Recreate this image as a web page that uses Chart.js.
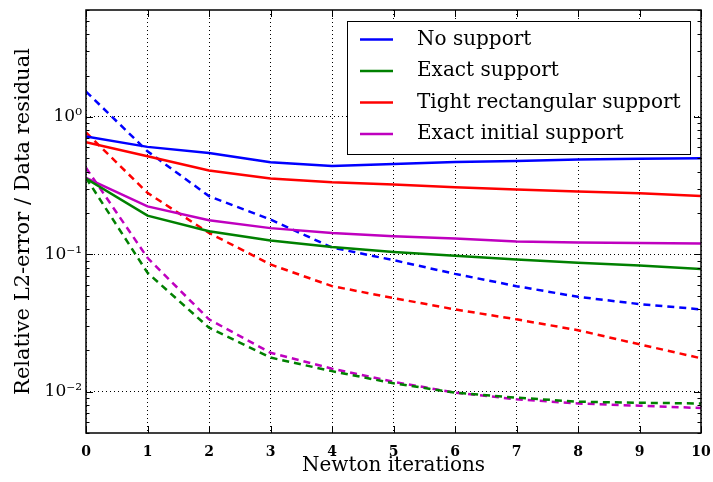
<!DOCTYPE html>
<html>
<head>
<meta charset="utf-8">
<script src="https://cdn.jsdelivr.net/npm/chart.js@4/dist/chart.umd.min.js"></script>
<style>
  html, body { margin: 0; background: #fff; }
  #wrap { width: 713px; height: 482px; }
</style>
</head>
<body>
<div id="wrap"><canvas id="chart"></canvas></div>
<script>
const iterations = [0, 1, 2, 3, 4, 5, 6, 7, 8, 9, 10];
const names = ['No support', 'Exact support', 'Tight rectangular support', 'Exact initial support'];
const colors = ['#0000ff', '#008000', '#ff0000', '#bf00bf'];

// relative L2-error (solid lines)
const errNone  = [0.72, 0.605, 0.547, 0.468, 0.44, 0.455, 0.47, 0.478, 0.49, 0.495, 0.50];
const errExact = [0.356, 0.191, 0.147, 0.126, 0.113, 0.104, 0.0975, 0.0917, 0.0867, 0.083, 0.078];
const errTight = [0.653, 0.517, 0.407, 0.356, 0.334, 0.322, 0.308, 0.296, 0.286, 0.278, 0.266];
const errInit  = [0.36, 0.223, 0.177, 0.155, 0.143, 0.135, 0.13, 0.124, 0.122, 0.121, 0.12];

// data residual (dashed lines)
const resNone  = [1.53, 0.562, 0.265, 0.179, 0.112, 0.0906, 0.072, 0.0586, 0.049, 0.0434, 0.0397];
const resExact = [0.36, 0.0733, 0.0292, 0.0177, 0.0141, 0.0115, 0.00984, 0.00904, 0.00845, 0.0083, 0.0082];
const resTight = [0.77, 0.28, 0.143, 0.0843, 0.0586, 0.048, 0.0397, 0.0336, 0.028, 0.0221, 0.0175];
const resInit  = [0.426, 0.0943, 0.0336, 0.0192, 0.0147, 0.0118, 0.00984, 0.0088, 0.0082, 0.0079, 0.0076];

const yMajor = [0.01, 0.1, 1];
const yMajorLabels = ['10⁻²', '10⁻¹', '10⁰'];
const Y_MIN = 0.005, Y_MAX = 6;

// log ticks: every 1..9 x decade inside the range
const yTickValues = [];
for (let d = -3; d <= 0; d++) for (let m = 1; m <= 9; m++) {
  const v = +(m * Math.pow(10, d)).toPrecision(3);
  if (v >= Y_MIN && v <= Y_MAX) yTickValues.push(v);
}
const isMajor = v => yMajor.some(m => Math.abs(v / m - 1) < 1e-6);

const pts = arr => iterations.map((x, i) => ({ x, y: arr[i] }));
const SERIF = '"DejaVu Serif", "Liberation Serif", serif';

const solid = [errNone, errExact, errTight, errInit].map((a, i) => ({
  label: names[i], data: pts(a), borderColor: colors[i], borderWidth: 2.5,
  pointRadius: 0, tension: 0, fill: false
}));
const dashed = [resNone, resExact, resTight, resInit].map((a, i) => ({
  label: '', data: pts(a), borderColor: colors[i], borderWidth: 2.5, borderDash: [7, 5],
  pointRadius: 0, tension: 0, fill: false
}));

// frame + inward tick marks on all four sides
const frameTicks = {
  id: 'frameTicks',
  afterDatasetsDraw(chart) {
    const { ctx, chartArea: a, scales: { x, y } } = chart;
    ctx.save();
    ctx.strokeStyle = '#000';
    ctx.lineWidth = 1;
    ctx.beginPath();
    for (const t of y.ticks) {
      const py = Math.round(y.getPixelForValue(t.value)) + 0.5;
      const len = isMajor(t.value) ? 7 : 3.5;
      ctx.moveTo(a.left, py); ctx.lineTo(a.left + len, py);
      ctx.moveTo(a.right, py); ctx.lineTo(a.right - len, py);
    }
    for (const t of x.ticks) {
      const px = Math.round(x.getPixelForValue(t.value)) + 0.5;
      ctx.moveTo(px, a.bottom); ctx.lineTo(px, a.bottom - 7);
      ctx.moveTo(px, a.top); ctx.lineTo(px, a.top + 7);
    }
    ctx.stroke();
    ctx.lineWidth = 1.5;
    ctx.strokeRect(a.left, a.top, a.right - a.left, a.bottom - a.top);
    ctx.restore();
  }
};

// boxed legend in the upper right of the plot, solid series only
const boxLegend = {
  id: 'boxLegend',
  afterDraw(chart) {
    const { ctx, chartArea: a } = chart;
    const items = chart.data.datasets.filter(d => d.label);
    const w = 343, rowH = 31.5, h = 133;
    const left = a.right - 11 - w, top = a.top + 11;
    ctx.save();
    ctx.fillStyle = '#fff';
    ctx.fillRect(left, top, w, h);
    ctx.strokeStyle = '#000';
    ctx.lineWidth = 1;
    ctx.strokeRect(left + 0.5, top + 0.5, w, h);
    ctx.font = '20px ' + SERIF;
    ctx.textBaseline = 'middle';
    items.forEach((d, i) => {
      const cy = top + 18.5 + i * rowH;
      ctx.strokeStyle = d.borderColor;
      ctx.lineWidth = 2.5;
      ctx.beginPath();
      ctx.moveTo(left + 13, cy); ctx.lineTo(left + 46, cy);
      ctx.stroke();
      ctx.fillStyle = '#000';
      ctx.fillText(d.label, left + 70, cy);
    });
    ctx.restore();
  }
};

new Chart(document.getElementById('chart'), {
  type: 'line',
  data: { datasets: [...solid, ...dashed] },
  plugins: [frameTicks, boxLegend],
  options: {
    responsive: true,
    maintainAspectRatio: false,
    animation: false,
    layout: { padding: { top: 10, right: 12, left: 0, bottom: 0 } },
    plugins: { legend: { display: false }, tooltip: { enabled: false } },
    scales: {
      x: {
        type: 'linear', min: 0, max: 10,
        afterFit: s => { s.height = 49; s.paddingLeft = 0; s.paddingRight = 0; },
        ticks: { stepSize: 1, padding: 11, color: '#000', font: { family: SERIF, size: 14, weight: 'bold' } },
        grid: { color: '#000', lineWidth: 1, drawTicks: false },
        border: { display: false, dash: [1, 3] },
        title: { display: true, text: 'Newton iterations', color: '#000', font: { family: SERIF, size: 20 }, padding: { top: 0, bottom: 4 } }
      },
      y: {
        type: 'logarithmic', min: Y_MIN, max: Y_MAX,
        afterFit: s => { s.width = 86; s.paddingTop = 0; s.paddingBottom = 0; },
        afterBuildTicks: s => { s.ticks = yTickValues.map(v => ({ value: v })); },
        ticks: {
          autoSkip: false, padding: 4, color: '#000',
          font: { family: SERIF, size: 17 },
          callback: v => { const i = yMajor.findIndex(m => Math.abs(v / m - 1) < 1e-6); return i >= 0 ? yMajorLabels[i] : ''; }
        },
        grid: { drawTicks: false, lineWidth: 1, color: c => (c.tick && isMajor(c.tick.value)) ? '#000' : 'rgba(0,0,0,0)' },
        border: { display: false, dash: [1, 3] },
        title: { display: true, text: 'Relative L2-error / Data residual', color: '#000', font: { family: SERIF, size: 21 }, padding: { top: 11, bottom: 0 } }
      }
    }
  }
});
</script>
</body>
</html>
